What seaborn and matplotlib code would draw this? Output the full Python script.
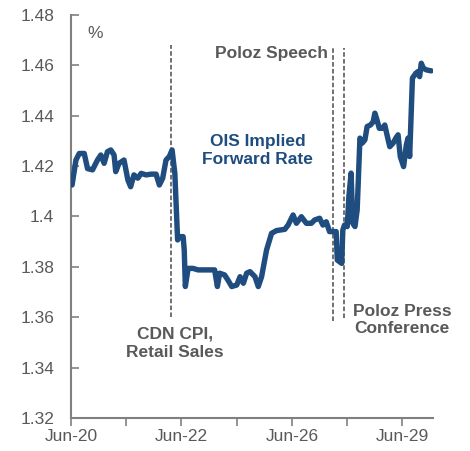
import matplotlib
matplotlib.use("Agg")
import matplotlib.pyplot as plt
import seaborn as sns
import pandas as pd

# ---- data (x in trading-day units from Jun-20 tick) ----
x_vals = [0.02, 0.09, 0.15, 0.24, 0.30, 0.39, 0.48, 0.54, 0.60, 0.66, 0.72, 0.78,
          0.81, 0.87, 0.96, 1.03, 1.08, 1.14, 1.21, 1.27, 1.36, 1.45, 1.54, 1.60,
          1.66, 1.72, 1.78, 1.83, 1.88, 1.93, 1.97, 2.03, 2.05, 2.07, 2.12, 2.21,
          2.30, 2.60, 2.65, 2.69, 2.78, 2.84, 2.91, 3.00, 3.06, 3.12, 3.18, 3.24,
          3.33, 3.39, 3.45, 3.54, 3.63, 3.72, 3.87, 3.93, 4.02, 4.08, 4.17, 4.26,
          4.35, 4.41, 4.50, 4.56, 4.62, 4.68, 4.75, 4.80, 4.82, 4.90, 4.92, 4.95,
          5.00, 5.03, 5.07, 5.10, 5.14, 5.18, 5.23, 5.27, 5.32, 5.36, 5.42, 5.47,
          5.50, 5.53, 5.58, 5.64, 5.68, 5.72, 5.77, 5.83, 5.88, 5.92, 5.96, 6.02,
          6.07, 6.10, 6.13, 6.18, 6.24, 6.28, 6.31, 6.34, 6.38, 6.43, 6.49, 6.52]
rate = [1.4125, 1.4224, 1.4250, 1.4250, 1.4190, 1.4185, 1.4224, 1.4244, 1.4211, 1.4257,
        1.4264, 1.4244, 1.4178, 1.4211, 1.4224, 1.4145, 1.4118, 1.4165, 1.4152, 1.4171,
        1.4165, 1.4168, 1.4168, 1.4125, 1.4152, 1.4224, 1.4238, 1.4264, 1.4171, 1.3907,
        1.3920, 1.3920, 1.3867, 1.3722, 1.3794, 1.3794, 1.3788, 1.3788, 1.3722, 1.3775,
        1.3768, 1.3748, 1.3722, 1.3728, 1.3761, 1.3735, 1.3775, 1.3781, 1.3761, 1.3722,
        1.3761, 1.3867, 1.3933, 1.3944, 1.3949, 1.3966, 1.4006, 1.3973, 1.3999, 1.3973,
        1.3973, 1.3986, 1.3993, 1.3966, 1.3979, 1.3940, 1.3940, 1.3940, 1.3827, 1.3814,
        1.3946, 1.3966, 1.3960, 1.4079, 1.4172, 1.3973, 1.3960, 1.4026, 1.4311, 1.4291,
        1.4304, 1.4357, 1.4363, 1.4376, 1.4410, 1.4390, 1.4350, 1.4350, 1.4363, 1.4324,
        1.4277, 1.4291, 1.4311, 1.4324, 1.4238, 1.4198, 1.4284, 1.4311, 1.4238, 1.4549,
        1.4568, 1.4575, 1.4555, 1.4608, 1.4588, 1.4582, 1.4579, 1.4578]

tick_pos = [0, 1, 2, 3, 4, 5, 6]
tick_labels = ["Jun-20", "", "Jun-22", "", "Jun-26", "", "Jun-29"]
y_ticks = [1.32, 1.34, 1.36, 1.38, 1.40, 1.42, 1.44, 1.46, 1.48]
y_labels = ["1.32", "1.34", "1.36", "1.38", "1.4", "1.42", "1.44", "1.46", "1.48"]

event_x = [1.81, 4.74, 4.95]
event_top = [1.468, 1.467, 1.467]
event_bottom = [1.360, 1.3586, 1.3597]

df = pd.DataFrame({"x": x_vals, "rate": rate})

sns.set_theme(style="white")
plt.rcParams['font.family'] = ['Liberation Sans', 'DejaVu Sans']

LINE = "#1F4D80"
GREY = "#595959"
AXC = "#808080"

fig = plt.figure(figsize=(4.70, 4.51), dpi=100)
ax = fig.add_axes([0.151, 0.073, 0.770, 0.894])

for xe, yt, yb in zip(event_x, event_top, event_bottom):
    ax.vlines(xe, yb, yt, colors="#4a4a4a", linestyles=(0, (3, 1.5)), linewidth=1.1, zorder=1)

sns.lineplot(data=df, x="x", y="rate", ax=ax, color=LINE, linewidth=3.9, zorder=3)

ax.set_xlim(0, 6.55)
ax.set_ylim(1.32, 1.48)
ax.set_xticks(tick_pos)
ax.set_xticklabels(tick_labels)
ax.set_yticks(y_ticks)
ax.set_yticklabels(y_labels)
ax.set_xlabel("")
ax.set_ylabel("")

for s in ["top", "right"]:
    ax.spines[s].set_visible(False)
for s in ["left", "bottom"]:
    ax.spines[s].set_color(AXC)
    ax.spines[s].set_linewidth(1.5)

ax.tick_params(axis="y", direction="in", length=6, width=1.2, color=AXC,
               labelsize=12.5, labelcolor=GREY, pad=12)
ax.tick_params(axis="x", direction="out", length=6, width=1.2, color=AXC,
               labelsize=12.5, labelcolor=GREY, pad=2, bottom=True)
ax.tick_params(axis="y", left=True)

ax.text(0.045, 0.955, "%", transform=ax.transAxes, fontsize=12.5, color=GREY,
        ha="left", va="center")
ax.text(4.66, 1.4648, "Poloz Speech", fontsize=12.5, fontweight="bold", color=GREY,
        ha="right", va="center")
ax.text(3.38, 1.4262, "OIS Implied\nForward Rate", fontsize=12.5, fontweight="bold",
        color=LINE, ha="center", va="center", linespacing=1.2)
ax.text(1.88, 1.3497, "CDN CPI,\nRetail Sales", fontsize=12.5, fontweight="bold",
        color=GREY, ha="center", va="center", linespacing=1.25)
ax.text(5.99, 1.3590, "Poloz Press\nConference", fontsize=12.5, fontweight="bold",
        color=GREY, ha="center", va="center", linespacing=1.2)

fig.savefig("out.png", dpi=100)
